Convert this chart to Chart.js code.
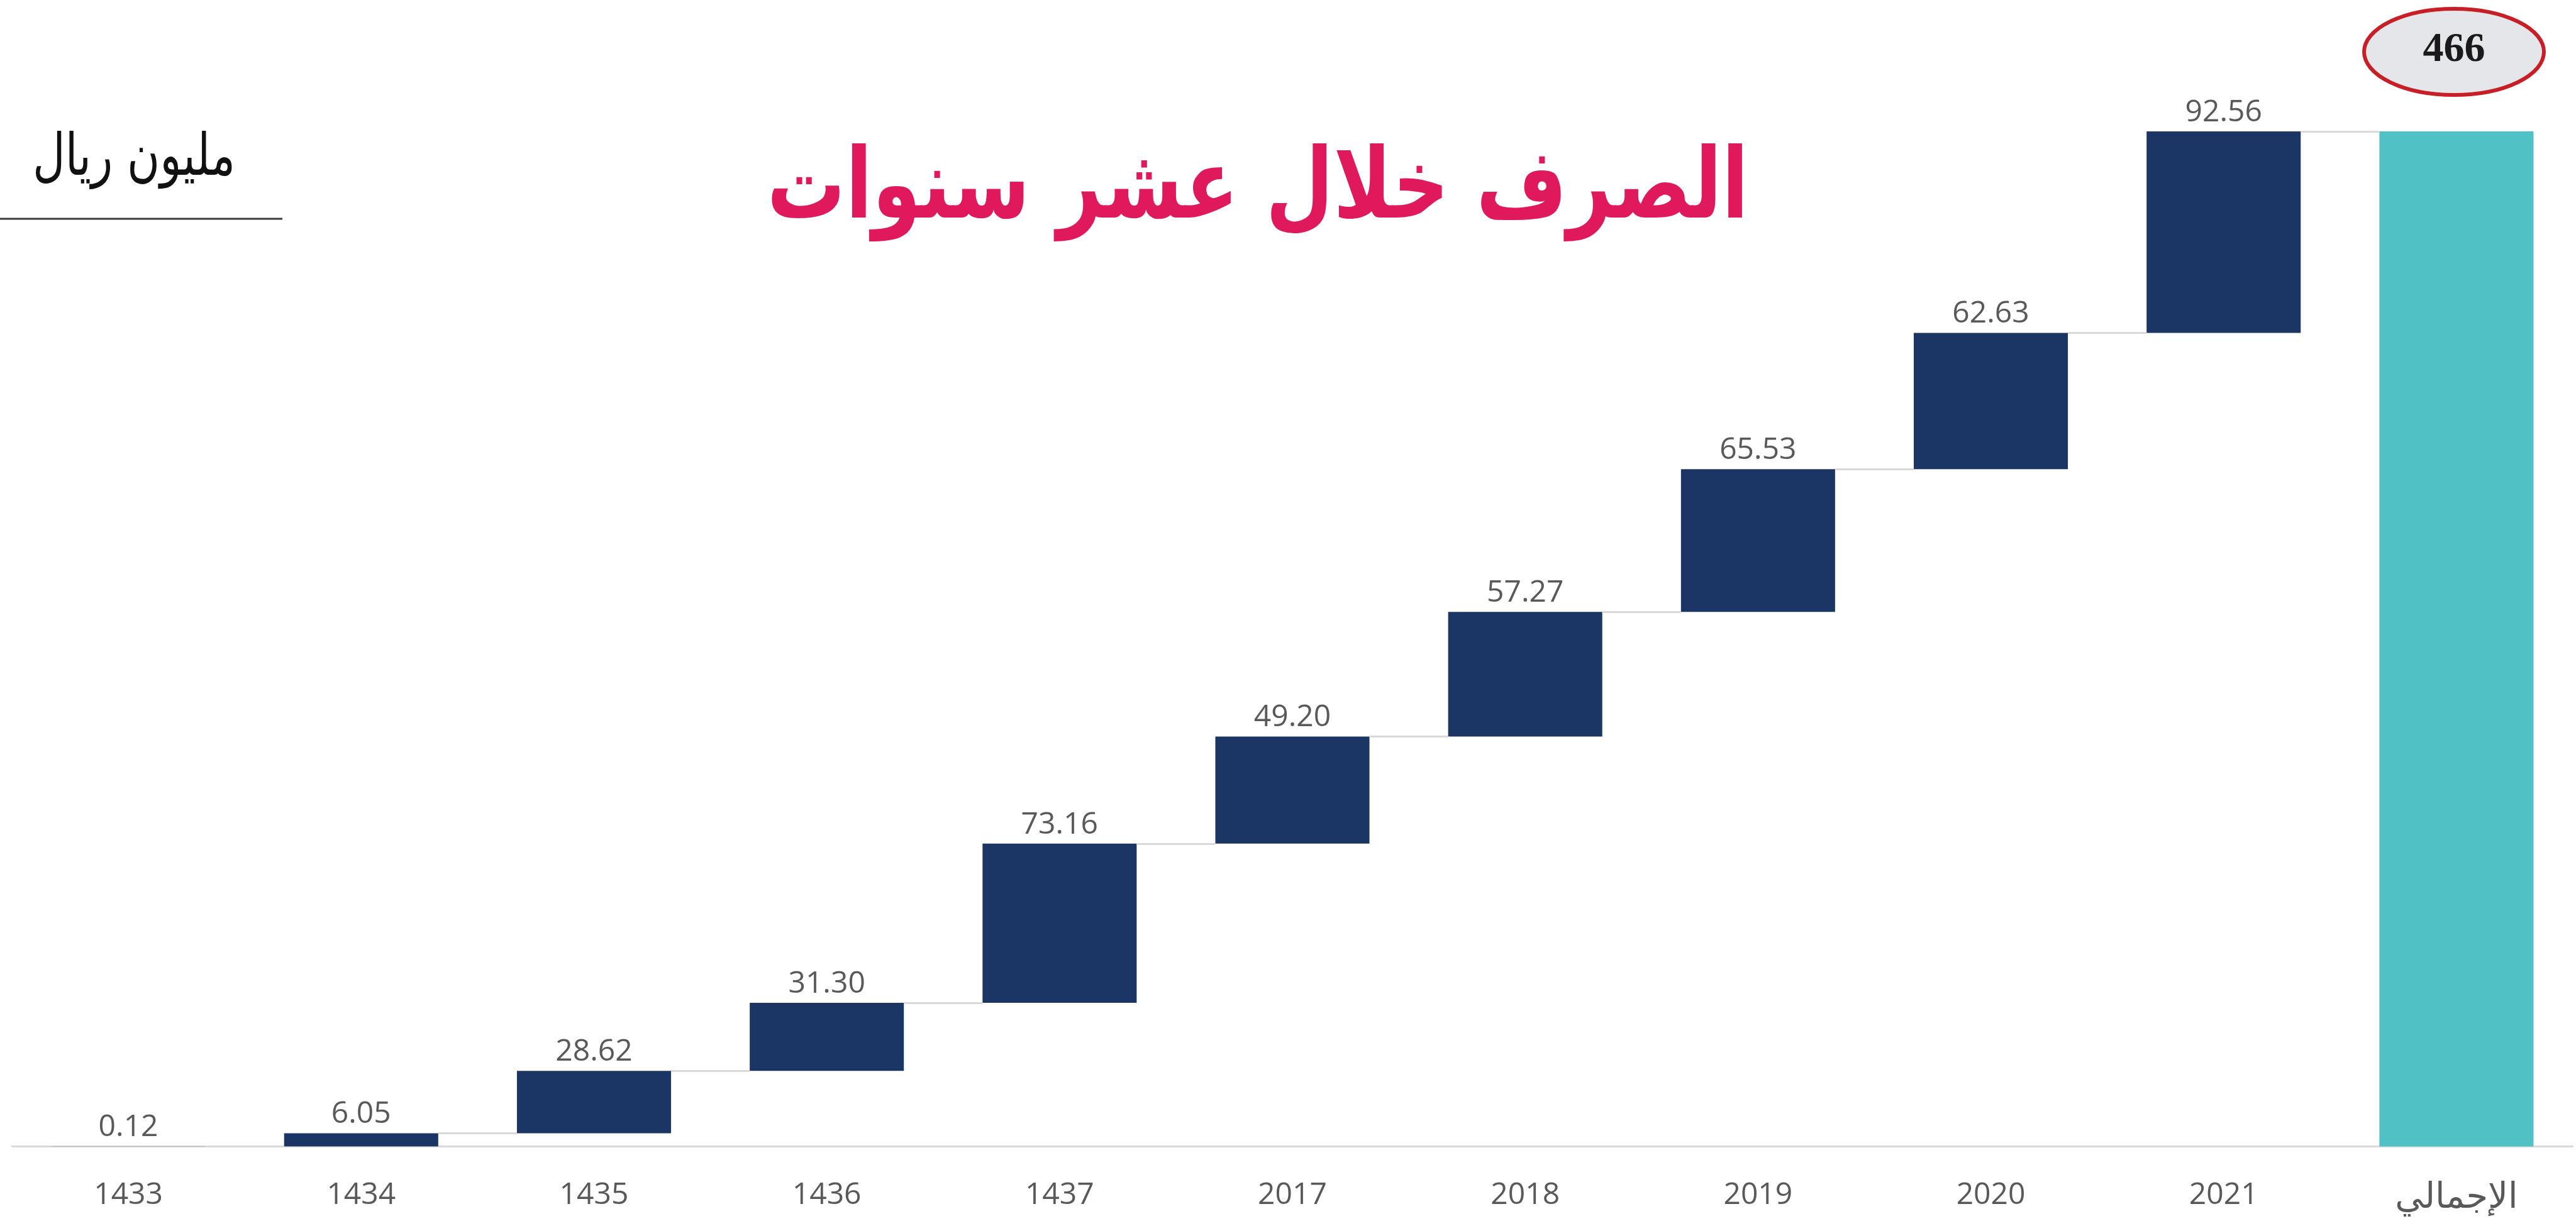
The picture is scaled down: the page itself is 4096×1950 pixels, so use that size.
<!DOCTYPE html>
<html>
<head>
<meta charset="utf-8">
<script src="https://cdn.jsdelivr.net/npm/chart.js@4.4.1/dist/chart.umd.min.js"></script>
<style>
	body { margin: 0; background: #fff; }
</style>
</head>
<body>
<canvas id="waterfall" width="4096" height="1950"></canvas>
<script>
// spending per year (million riyal)
var years = ['1433', '1434', '1435', '1436', '1437', '2017', '2018', '2019', '2020', '2021'];
var spending = [0.12, 6.05, 28.62, 31.30, 73.16, 49.20, 57.27, 65.53, 62.63, 92.56];
var totalLabel = 'الإجمالي';
var totalBadge = '466';
var chartTitle = 'الصرف خلال عشر سنوات';
var unitLabel = 'مليون ريال';

var navy = '#1B3564';
var teal = '#50C2C5';

// floating bars for the waterfall
var labels = years.concat([totalLabel]);
var bars = [];
var colors = [];
var running = 0;
for (var i = 0; i < spending.length; i++) {
	bars.push([running, running + spending[i]]);
	colors.push(navy);
	running += spending[i];
}
bars.push([0, running]);
colors.push(teal);

function fitSize(ctx, text, weight, family, width) {
	ctx.font = weight + ' 100px ' + family;
	return 100 * width / ctx.measureText(text).width;
}

// draw text fitted to a width, stretched a bit vertically
function stretchedText(ctx, text, weight, family, width, x, y, sy) {
	var size = fitSize(ctx, text, weight, family, width);
	ctx.save();
	ctx.translate(x, y);
	ctx.scale(1, sy);
	ctx.font = weight + ' ' + size + 'px ' + family;
	ctx.fillText(text, 0, 0);
	ctx.restore();
}

var waterfallExtras = {
	id: 'waterfallExtras',
	afterDatasetsDraw: function(chart) {
		var ctx = chart.ctx;
		var meta = chart.getDatasetMeta(0);
		var y = chart.scales.y;
		ctx.save();
		// connectors
		ctx.strokeStyle = '#D9D9D9';
		ctx.lineWidth = 3;
		for (var i = 0; i < meta.data.length - 1; i++) {
			var a = meta.data[i], b = meta.data[i + 1];
			var py = Math.round(y.getPixelForValue(bars[i][1])) + 0.5;
			ctx.beginPath();
			ctx.moveTo(a.x + a.width / 2, py);
			ctx.lineTo(b.x - b.width / 2, py);
			ctx.stroke();
		}
		// value labels
		ctx.fillStyle = '#595959';
		ctx.font = '48px "Open Sans"';
		ctx.textAlign = 'center';
		ctx.textBaseline = 'alphabetic';
		for (var j = 0; j < spending.length; j++) {
			ctx.fillText(spending[j].toFixed(2), meta.data[j].x, y.getPixelForValue(bars[j][1]) - 16);
		}
		ctx.restore();
	},
	afterDraw: function(chart) {
		var ctx = chart.ctx;
		ctx.save();
		ctx.direction = 'rtl';
		ctx.textAlign = 'center';
		ctx.textBaseline = 'alphabetic';

		// title
		ctx.fillStyle = '#E0185C';
		stretchedText(ctx, chartTitle, 'bold', '"DejaVu Sans"', 1561, 2000, 346, 1.25);

		// unit
		ctx.fillStyle = '#111';
		stretchedText(ctx, unitLabel, 'normal', '"DejaVu Sans"', 322, 213, 278, 1.3);
		ctx.strokeStyle = '#3a3a3a';
		ctx.lineWidth = 3;
		ctx.beginPath();
		ctx.moveTo(0, 348);
		ctx.lineTo(449, 348);
		ctx.stroke();

		// total badge
		ctx.beginPath();
		ctx.ellipse(3902, 82.5, 143, 68.5, 0, 0, Math.PI * 2);
		ctx.fillStyle = '#E4E6E9';
		ctx.fill();
		ctx.strokeStyle = '#C81E25';
		ctx.lineWidth = 6;
		ctx.stroke();
		ctx.direction = 'ltr';
		ctx.fillStyle = '#1a1a1a';
		ctx.font = 'bold 66px "Liberation Serif"';
		ctx.textBaseline = 'middle';
		ctx.fillText(totalBadge, 3902, 80);
		ctx.restore();
	}
};

var ctx = document.getElementById('waterfall');
var chart = new Chart(ctx, {
	type: 'bar',
	data: {
		labels: labels,
		datasets: [{
			data: bars,
			backgroundColor: colors,
			borderWidth: 0,
			categoryPercentage: 1,
			barPercentage: 0.662
		}]
	},
	options: {
		responsive: false,
		animation: false,
		layout: {
			padding: { top: 209, left: 19, right: 5, bottom: -39 }
		},
		plugins: {
			legend: { display: false },
			tooltip: { enabled: false }
		},
		scales: {
			x: {
				grid: { display: false, drawTicks: false },
				border: { color: '#D9D9D9', width: 3 },
				ticks: {
					color: '#595959',
					font: function(c) {
						if (c.index === labels.length - 1) {
							return { family: '"DejaVu Sans"', size: 56 };
						}
						return { family: '"Open Sans"', size: 48 };
					},
					padding: 49,
					maxRotation: 0
				}
			},
			y: {
				display: false,
				min: 0,
				max: running
			}
		}
	},
	plugins: [waterfallExtras]
});
</script>
</body>
</html>
